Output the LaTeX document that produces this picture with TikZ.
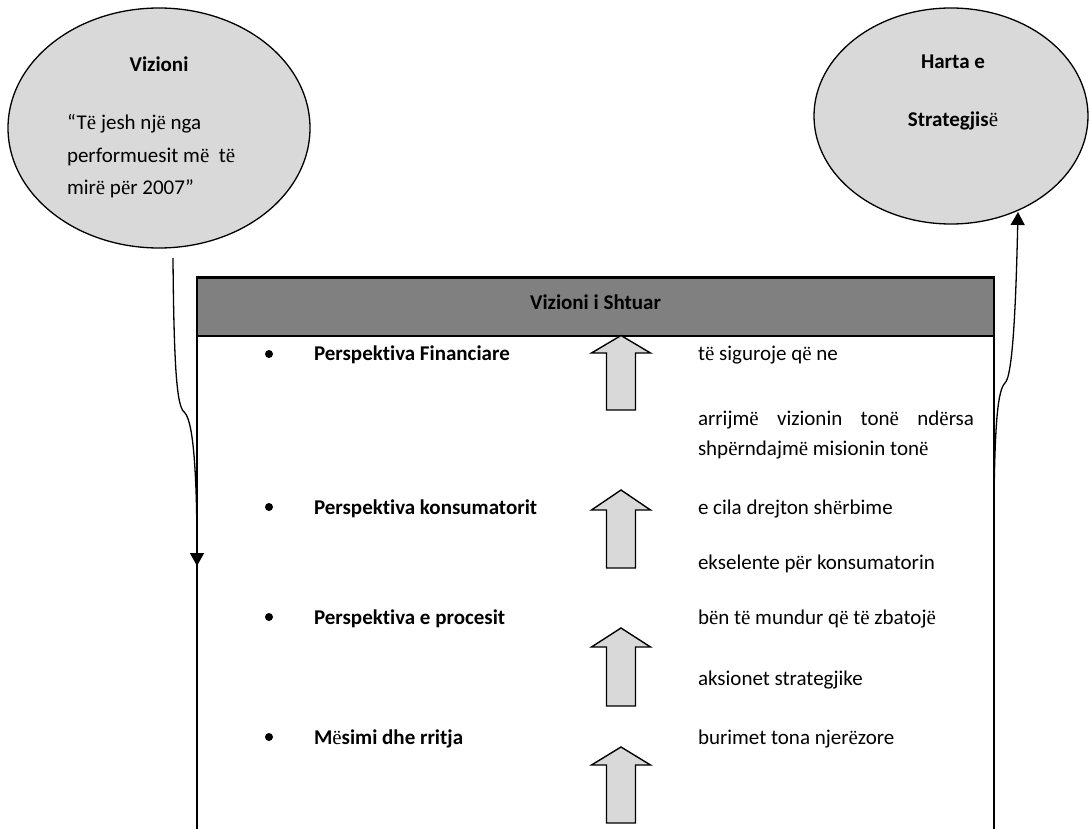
\documentclass[tikz,border=0pt]{standalone}
\usepackage{fontspec}
\setmainfont{Carlito}[Ligatures=NoCommon]
\newfontfamily\tnrfam{Liberation Serif}
% the diaeresis e is set in a serif face, as in the source document
\newcommand\ee{{\tnrfam\mdseries ë}}
\usetikzlibrary{shapes.geometric,arrows.meta}
\definecolor{ovalgray}{HTML}{D9D9D9}
\definecolor{bargray}{HTML}{808080}
% upward block arrow: centre x, tip y, head base y, bottom y
\newcommand\blockarrow[4]{%
  \draw[blockarr] (#1,#2) -- (#1+29.5,#3) -- (#1+14.5,#3) -- (#1+14.5,#4)
    -- (#1-14.5,#4) -- (#1-14.5,#3) -- (#1-29.5,#3) -- cycle;}
\begin{document}
\begin{tikzpicture}[x=1pt,y=-1pt,
  every node/.style={inner sep=0pt, outer sep=0pt, font=\fontsize{21}{29}\selectfont},
  oval/.style={ellipse, draw=black, line width=1.3pt, fill=ovalgray},
  bold/.style={font=\fontsize{21}{29}\selectfont\bfseries},
  txt/.style={anchor=base west},
  boxline/.style={line width=1.4pt},
  conn/.style={line width=1.3pt, -{Triangle[length=13pt,width=14pt]}},
  blockarr/.style={draw=black, line width=1.4pt, fill=ovalgray, line join=miter},
  dot/.style={circle, fill=black, minimum size=8pt}
]
\useasboundingbox (0,0) rectangle (1090,829);

% the two ovals
\node[oval, minimum width=302pt, minimum height=240pt] (vizioni) at (159,128) {};
\node[oval, minimum width=274pt, minimum height=216pt] (harta) at (951,116) {};

\node[bold, anchor=base] (vtitle) at (159,72) {Vizioni};
\node[txt] (vq1) at (67,130) {“T\ee{} jesh nj\ee{} nga};
\node[txt] (vq2) at (67,163) {performuesit m\ee{}\ \ t\ee};
\node[txt] (vq3) at (67,195) {mir\ee{} p\ee{}r 2007”};

\node[bold, anchor=base] (h1) at (953,69) {Harta e};
\node[bold, anchor=base] (h2) at (953,127) {Strategjis\ee};

% the table with its grey title bar
\node[draw=black, line width=2pt, fill=bargray, minimum width=797pt, minimum height=58pt] (bar) at (595.5,306.5) {};
\node[bold, anchor=base] (bartitle) at (595.5,309) {Vizioni i Shtuar};
\coordinate (boxbl) at (197,829);
\coordinate (boxbr) at (994,829);
\draw[boxline] (bar.south west) -- (boxbl);
\draw[boxline] (bar.south east) -- (boxbr);

% block arrows between the perspectives
\blockarrow{621}{335.5}{353}{410}
\blockarrow{621}{490}{510}{568}
\blockarrow{621}{628}{647}{706}
\blockarrow{621}{747}{765}{823}

% left column
\node[dot] (d1) at (269,354) {};
\node[dot] (d2) at (269,507) {};
\node[dot] (d3) at (269,617) {};
\node[dot] (d4) at (269,737) {};
\node[bold, txt] (p1) at (314,360) {Perspektiva Financiare};
\node[bold, txt] (p2) at (314,514) {Perspektiva konsumatorit};
\node[bold, txt] (p3) at (314,624) {Perspektiva e procesit};
\node[bold, txt] (p4) at (314,744) {M\ee simi dhe rritja};

% right column
\node[txt] (r1) at (698,360) {t\ee{} siguroje q\ee{} ne};
\node[txt] (r2) at (698,425) {\hbox to 276pt{arrijm\ee\hfill vizionin\hfill ton\ee\hfill nd\ee rsa}};
\node[txt] (r3) at (698,455) {shp\ee rndajm\ee{} misionin ton\ee};
\node[txt] (r4) at (698,514) {e cila drejton sh\ee rbime};
\node[txt] (r5) at (698,569) {ekselente p\ee r konsumatorin};
\node[txt] (r6) at (698,624) {b\ee n t\ee{} mundur q\ee{} t\ee{} zbatoj\ee};
\node[txt] (r7) at (698,685) {aksionet strategjike};
\node[txt] (r8) at (698,744) {burimet tona njer\ee zore};

% connectors: vision into the table, table up to the strategy map
\coordinate (vout) at (173,258);
\coordinate (vin) at (197,566);
\draw[conn] (vout) .. controls (174,385) and (178,408) .. (185,413)
  .. controls (193,422) and (197,470) .. (vin);
\coordinate (hout) at (994,640);
\coordinate (hin) at (1018,212);
\draw[conn] (hout) -- (994,500) .. controls (995,420) and (998,390) .. (1005,383)
  .. controls (1013,376) and (1016,300) .. (hin);
\end{tikzpicture}
\end{document}
